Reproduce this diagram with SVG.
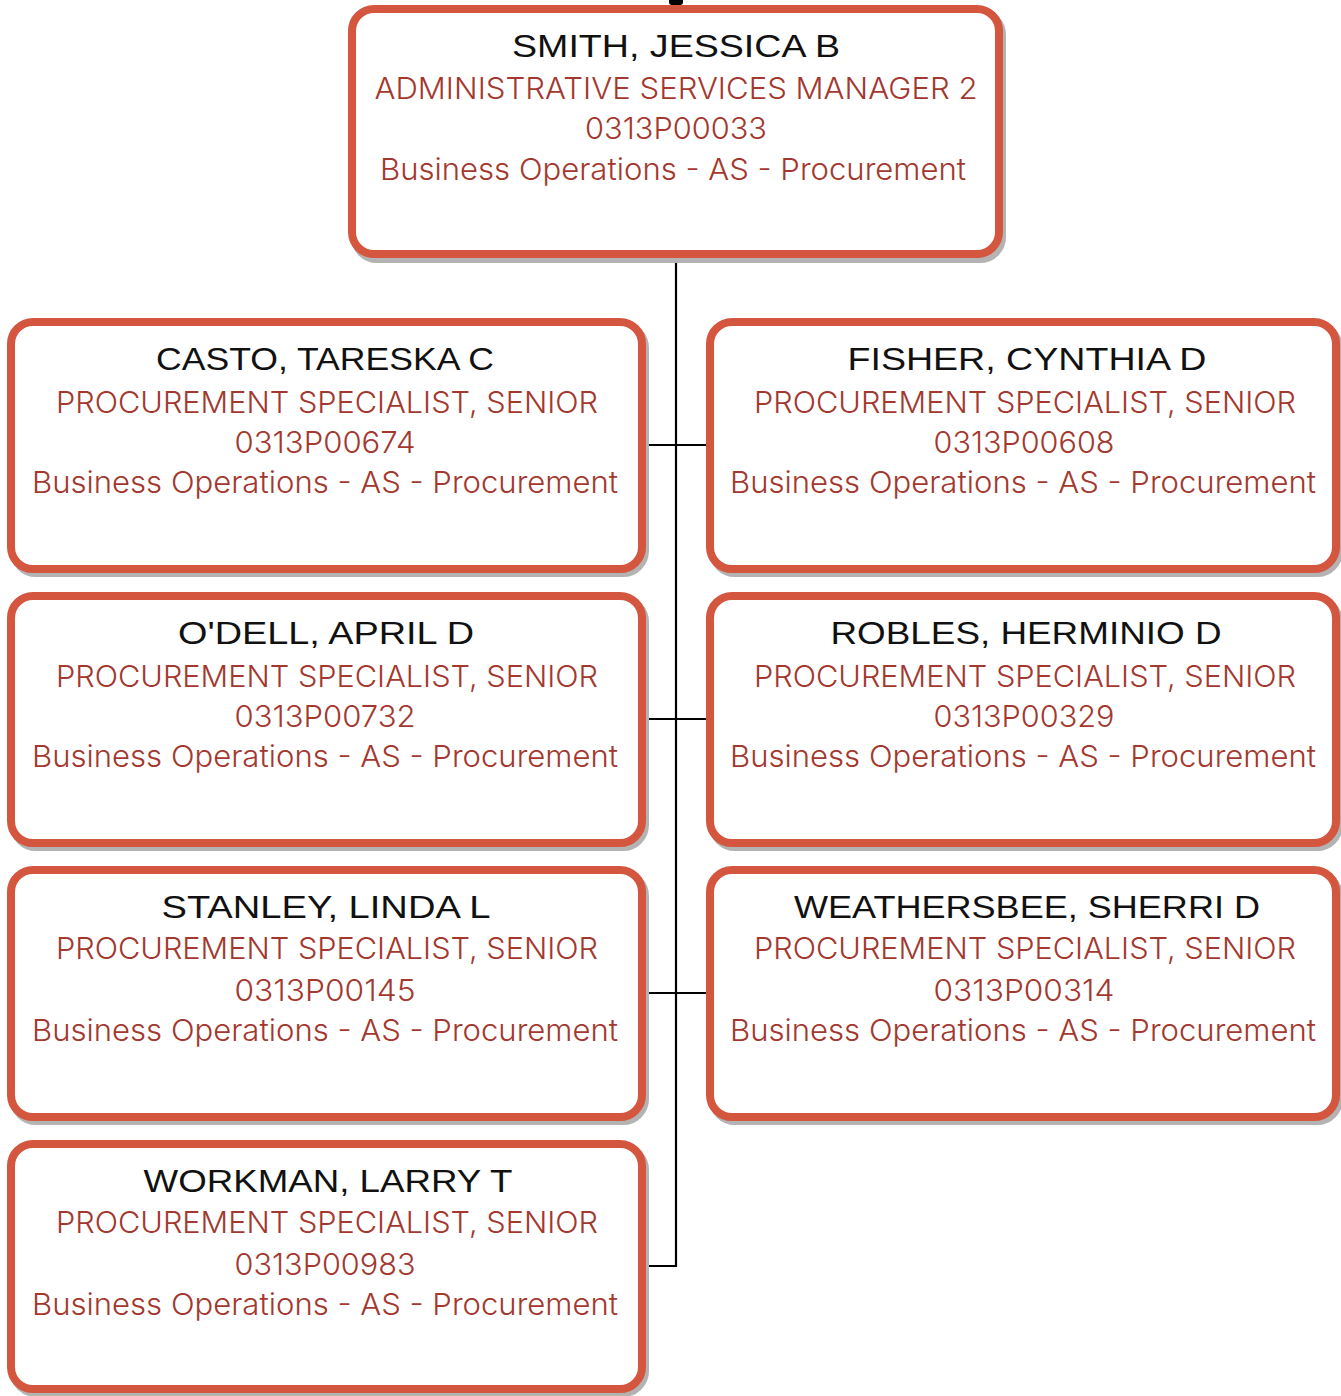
<svg xmlns="http://www.w3.org/2000/svg" width="1341" height="1396" viewBox="0 0 1341 1396">
<style>
.box{fill:#ffffff;stroke:#D4563F;stroke-width:8}
.shadow{fill:none;stroke:#B3B3B3;stroke-width:8}
.name{font-family:"Liberation Sans",Arial,sans-serif;font-size:31px;fill:#111111;text-anchor:middle}
.info{font-family:Inter,"Liberation Sans",Arial,sans-serif;font-weight:300;font-size:30px;fill:#A3382F;text-anchor:middle}
.conn{fill:none;stroke:#000000;stroke-width:2.2}
</style>
<rect x="0" y="0" width="1341" height="1396" fill="#ffffff"/>
<g id="connectors">
<rect x="669" y="-5" width="14" height="10" rx="3" fill="#000000"/>
<path class="conn" d="M676 256 V1266 H646"/>
<path class="conn" d="M646 445 H706"/>
<path class="conn" d="M646 719 H706"/>
<path class="conn" d="M646 993 H706"/>
</g>
<g id="smith">
<rect class="shadow" x="355" y="13" width="647" height="246" rx="22"/>
<rect class="box" x="352" y="9" width="647" height="245" rx="22"/>
<text class="name" x="676" y="57" textLength="328" lengthAdjust="spacingAndGlyphs">SMITH, JESSICA B</text>
<text class="info" x="676" y="99" textLength="603" lengthAdjust="spacingAndGlyphs">ADMINISTRATIVE SERVICES MANAGER 2</text>
<text class="info" x="676" y="139" textLength="182" lengthAdjust="spacingAndGlyphs">0313P00033</text>
<text class="info" x="673" y="180" textLength="586" lengthAdjust="spacingAndGlyphs">Business Operations - AS - Procurement</text>
</g>
<g id="casto">
<rect class="shadow" x="14" y="326" width="631" height="247" rx="22"/>
<rect class="box" x="11" y="322" width="631" height="247" rx="22"/>
<text class="name" x="325" y="370" textLength="338" lengthAdjust="spacingAndGlyphs">CASTO, TARESKA C</text>
<text class="info" x="327" y="413" textLength="542" lengthAdjust="spacingAndGlyphs">PROCUREMENT SPECIALIST, SENIOR</text>
<text class="info" x="325" y="453" textLength="181" lengthAdjust="spacingAndGlyphs">0313P00674</text>
<text class="info" x="325" y="493" textLength="586" lengthAdjust="spacingAndGlyphs">Business Operations - AS - Procurement</text>
</g>
<g id="fisher">
<rect class="shadow" x="713" y="326" width="626" height="247" rx="22"/>
<rect class="box" x="710" y="322" width="626" height="247" rx="22"/>
<text class="name" x="1027" y="370" textLength="359" lengthAdjust="spacingAndGlyphs">FISHER, CYNTHIA D</text>
<text class="info" x="1025" y="413" textLength="542" lengthAdjust="spacingAndGlyphs">PROCUREMENT SPECIALIST, SENIOR</text>
<text class="info" x="1024" y="453" textLength="181" lengthAdjust="spacingAndGlyphs">0313P00608</text>
<text class="info" x="1023" y="493" textLength="586" lengthAdjust="spacingAndGlyphs">Business Operations - AS - Procurement</text>
</g>
<g id="odell">
<rect class="shadow" x="14" y="600" width="631" height="247" rx="22"/>
<rect class="box" x="11" y="596" width="631" height="247" rx="22"/>
<text class="name" x="326" y="644" textLength="296" lengthAdjust="spacingAndGlyphs">O'DELL, APRIL D</text>
<text class="info" x="327" y="687" textLength="542" lengthAdjust="spacingAndGlyphs">PROCUREMENT SPECIALIST, SENIOR</text>
<text class="info" x="325" y="727" textLength="181" lengthAdjust="spacingAndGlyphs">0313P00732</text>
<text class="info" x="325" y="767" textLength="586" lengthAdjust="spacingAndGlyphs">Business Operations - AS - Procurement</text>
</g>
<g id="robles">
<rect class="shadow" x="713" y="600" width="626" height="247" rx="22"/>
<rect class="box" x="710" y="596" width="626" height="247" rx="22"/>
<text class="name" x="1026" y="644" textLength="391" lengthAdjust="spacingAndGlyphs">ROBLES, HERMINIO D</text>
<text class="info" x="1025" y="687" textLength="542" lengthAdjust="spacingAndGlyphs">PROCUREMENT SPECIALIST, SENIOR</text>
<text class="info" x="1024" y="727" textLength="181" lengthAdjust="spacingAndGlyphs">0313P00329</text>
<text class="info" x="1023" y="767" textLength="586" lengthAdjust="spacingAndGlyphs">Business Operations - AS - Procurement</text>
</g>
<g id="stanley">
<rect class="shadow" x="14" y="874" width="631" height="247" rx="22"/>
<rect class="box" x="11" y="870" width="631" height="247" rx="22"/>
<text class="name" x="326" y="918" textLength="329" lengthAdjust="spacingAndGlyphs">STANLEY, LINDA L</text>
<text class="info" x="327" y="959" textLength="542" lengthAdjust="spacingAndGlyphs">PROCUREMENT SPECIALIST, SENIOR</text>
<text class="info" x="325" y="1001" textLength="181" lengthAdjust="spacingAndGlyphs">0313P00145</text>
<text class="info" x="325" y="1041" textLength="586" lengthAdjust="spacingAndGlyphs">Business Operations - AS - Procurement</text>
</g>
<g id="weathersbee">
<rect class="shadow" x="713" y="874" width="626" height="247" rx="22"/>
<rect class="box" x="710" y="870" width="626" height="247" rx="22"/>
<text class="name" x="1027" y="918" textLength="466" lengthAdjust="spacingAndGlyphs">WEATHERSBEE, SHERRI D</text>
<text class="info" x="1025" y="959" textLength="542" lengthAdjust="spacingAndGlyphs">PROCUREMENT SPECIALIST, SENIOR</text>
<text class="info" x="1024" y="1001" textLength="181" lengthAdjust="spacingAndGlyphs">0313P00314</text>
<text class="info" x="1023" y="1041" textLength="586" lengthAdjust="spacingAndGlyphs">Business Operations - AS - Procurement</text>
</g>
<g id="workman">
<rect class="shadow" x="14" y="1148" width="631" height="245" rx="22"/>
<rect class="box" x="11" y="1144" width="631" height="245" rx="22"/>
<text class="name" x="328" y="1192" textLength="369" lengthAdjust="spacingAndGlyphs">WORKMAN, LARRY T</text>
<text class="info" x="327" y="1233" textLength="542" lengthAdjust="spacingAndGlyphs">PROCUREMENT SPECIALIST, SENIOR</text>
<text class="info" x="325" y="1275" textLength="181" lengthAdjust="spacingAndGlyphs">0313P00983</text>
<text class="info" x="325" y="1315" textLength="586" lengthAdjust="spacingAndGlyphs">Business Operations - AS - Procurement</text>
</g>
</svg>
